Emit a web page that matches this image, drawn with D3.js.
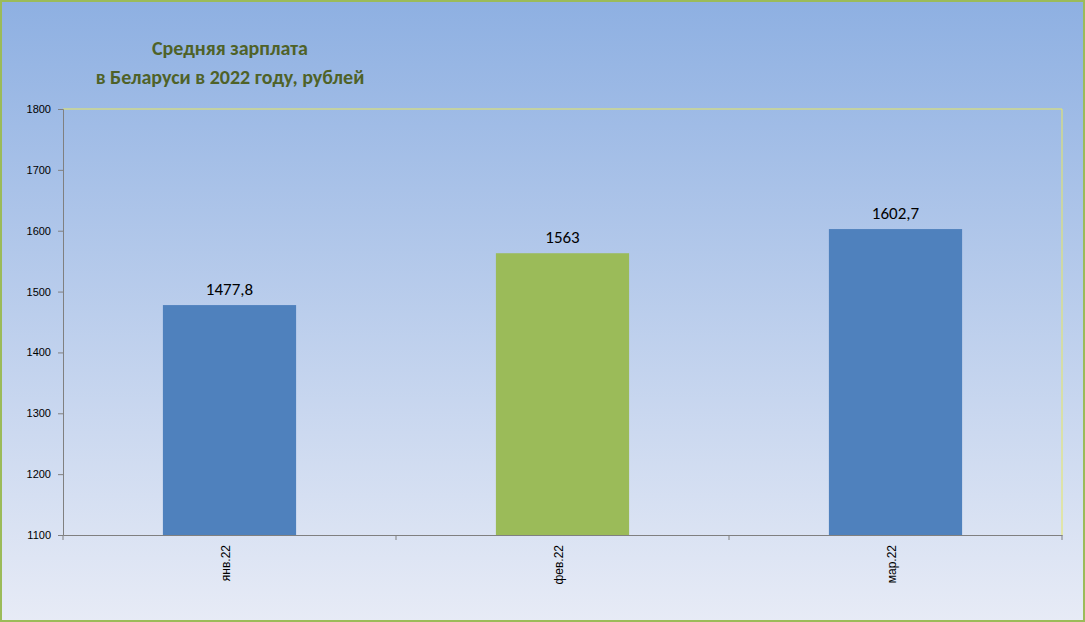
<!DOCTYPE html>
<html><head><meta charset="utf-8">
<script src="https://cdn.jsdelivr.net/npm/d3@7"></script>
<style>body{margin:0;}</style>
</head><body>
<svg id="c" width="1085" height="622"></svg>
<script>
const categories = ["янв.22", "фев.22", "мар.22"];
const values = [1477.8, 1563, 1602.7];
const labels = ["1477,8", "1563", "1602,7"];
const colors = ["#4f81bd", "#9bbb59", "#4f81bd"];
const yTicks = [1100, 1200, 1300, 1400, 1500, 1600, 1700, 1800];

const svg = d3.select("#c");
const defs = svg.append("defs");
const g = defs.append("linearGradient").attr("id","bg").attr("x1",0).attr("y1",0).attr("x2",0).attr("y2",1);
g.append("stop").attr("offset","0%").attr("stop-color","#8eb0e2");
g.append("stop").attr("offset","100%").attr("stop-color","#e7ebf6");
svg.append("rect").attr("x",1).attr("y",1).attr("width",1083).attr("height",620)
  .attr("fill","url(#bg)").attr("stroke","#9bbb59").attr("stroke-width",2);

const L=63,R=1062,T=109,B=535;
const x = d3.scaleBand().domain(categories).range([L,R]).paddingInner(0.6).paddingOuter(0.3);
const y = d3.scaleLinear().domain([1100,1800]).range([B,T]);

svg.append("path").attr("d",`M${L},${T}H${R}V${B}`).attr("fill","none").attr("stroke","#e8e860").attr("stroke-width",1);

const ya = svg.append("g").attr("transform",`translate(${L},0)`)
  .call(d3.axisLeft(y).tickValues(yTicks).tickSize(5).tickFormat(d3.format("d")));
ya.selectAll("text").attr("font-family","Arial, Liberation Sans").attr("font-size",11).attr("fill","#000").attr("x",-12);
ya.selectAll("line,path").attr("stroke","#808080");

const xb = d3.scaleBand().domain(categories).range([L,R]);
const xa = svg.append("g").attr("transform",`translate(0,${B})`)
  .call(d3.axisBottom(xb).tickSize(0).tickFormat(d=>d));
xa.select("path").attr("stroke","#808080");
xa.selectAll("text").attr("font-family","Arial, Liberation Sans").attr("font-size",12).attr("fill","#000")
  .attr("transform","rotate(-90)").attr("text-anchor","end").attr("x",-10).attr("y",-4).attr("dy","0.35em");
[L,...categories.map(c=>xb(c)+xb.bandwidth())].forEach(v=>{
  svg.append("line").attr("x1",v).attr("x2",v).attr("y1",B).attr("y2",B+5).attr("stroke","#808080");
});

svg.selectAll("rect.bar").data(values).join("rect").attr("class","bar")
  .attr("x",(d,i)=>x(categories[i])).attr("width",x.bandwidth())
  .attr("y",d=>y(d)).attr("height",d=>B-y(d)).attr("fill",(d,i)=>colors[i]);
svg.selectAll("text.lab").data(values).join("text").attr("class","lab")
  .attr("x",(d,i)=>x(categories[i])+x.bandwidth()/2).attr("y",d=>y(d)-10)
  .attr("text-anchor","middle").attr("font-family","Calibri, Carlito, Liberation Sans, Arial")
  .attr("font-size",17).attr("fill","#000").text((d,i)=>labels[i]);

const t = svg.append("text").attr("text-anchor","middle").attr("font-family","Calibri, Carlito, Liberation Sans, Arial")
  .attr("font-weight","bold").attr("font-size",20).attr("fill","#4f6228");
t.append("tspan").attr("x",230).attr("y",55).text("Средняя зарплата");
t.append("tspan").attr("x",230).attr("y",84).text("в Беларуси в 2022 году, рублей");
</script>
</body></html>
